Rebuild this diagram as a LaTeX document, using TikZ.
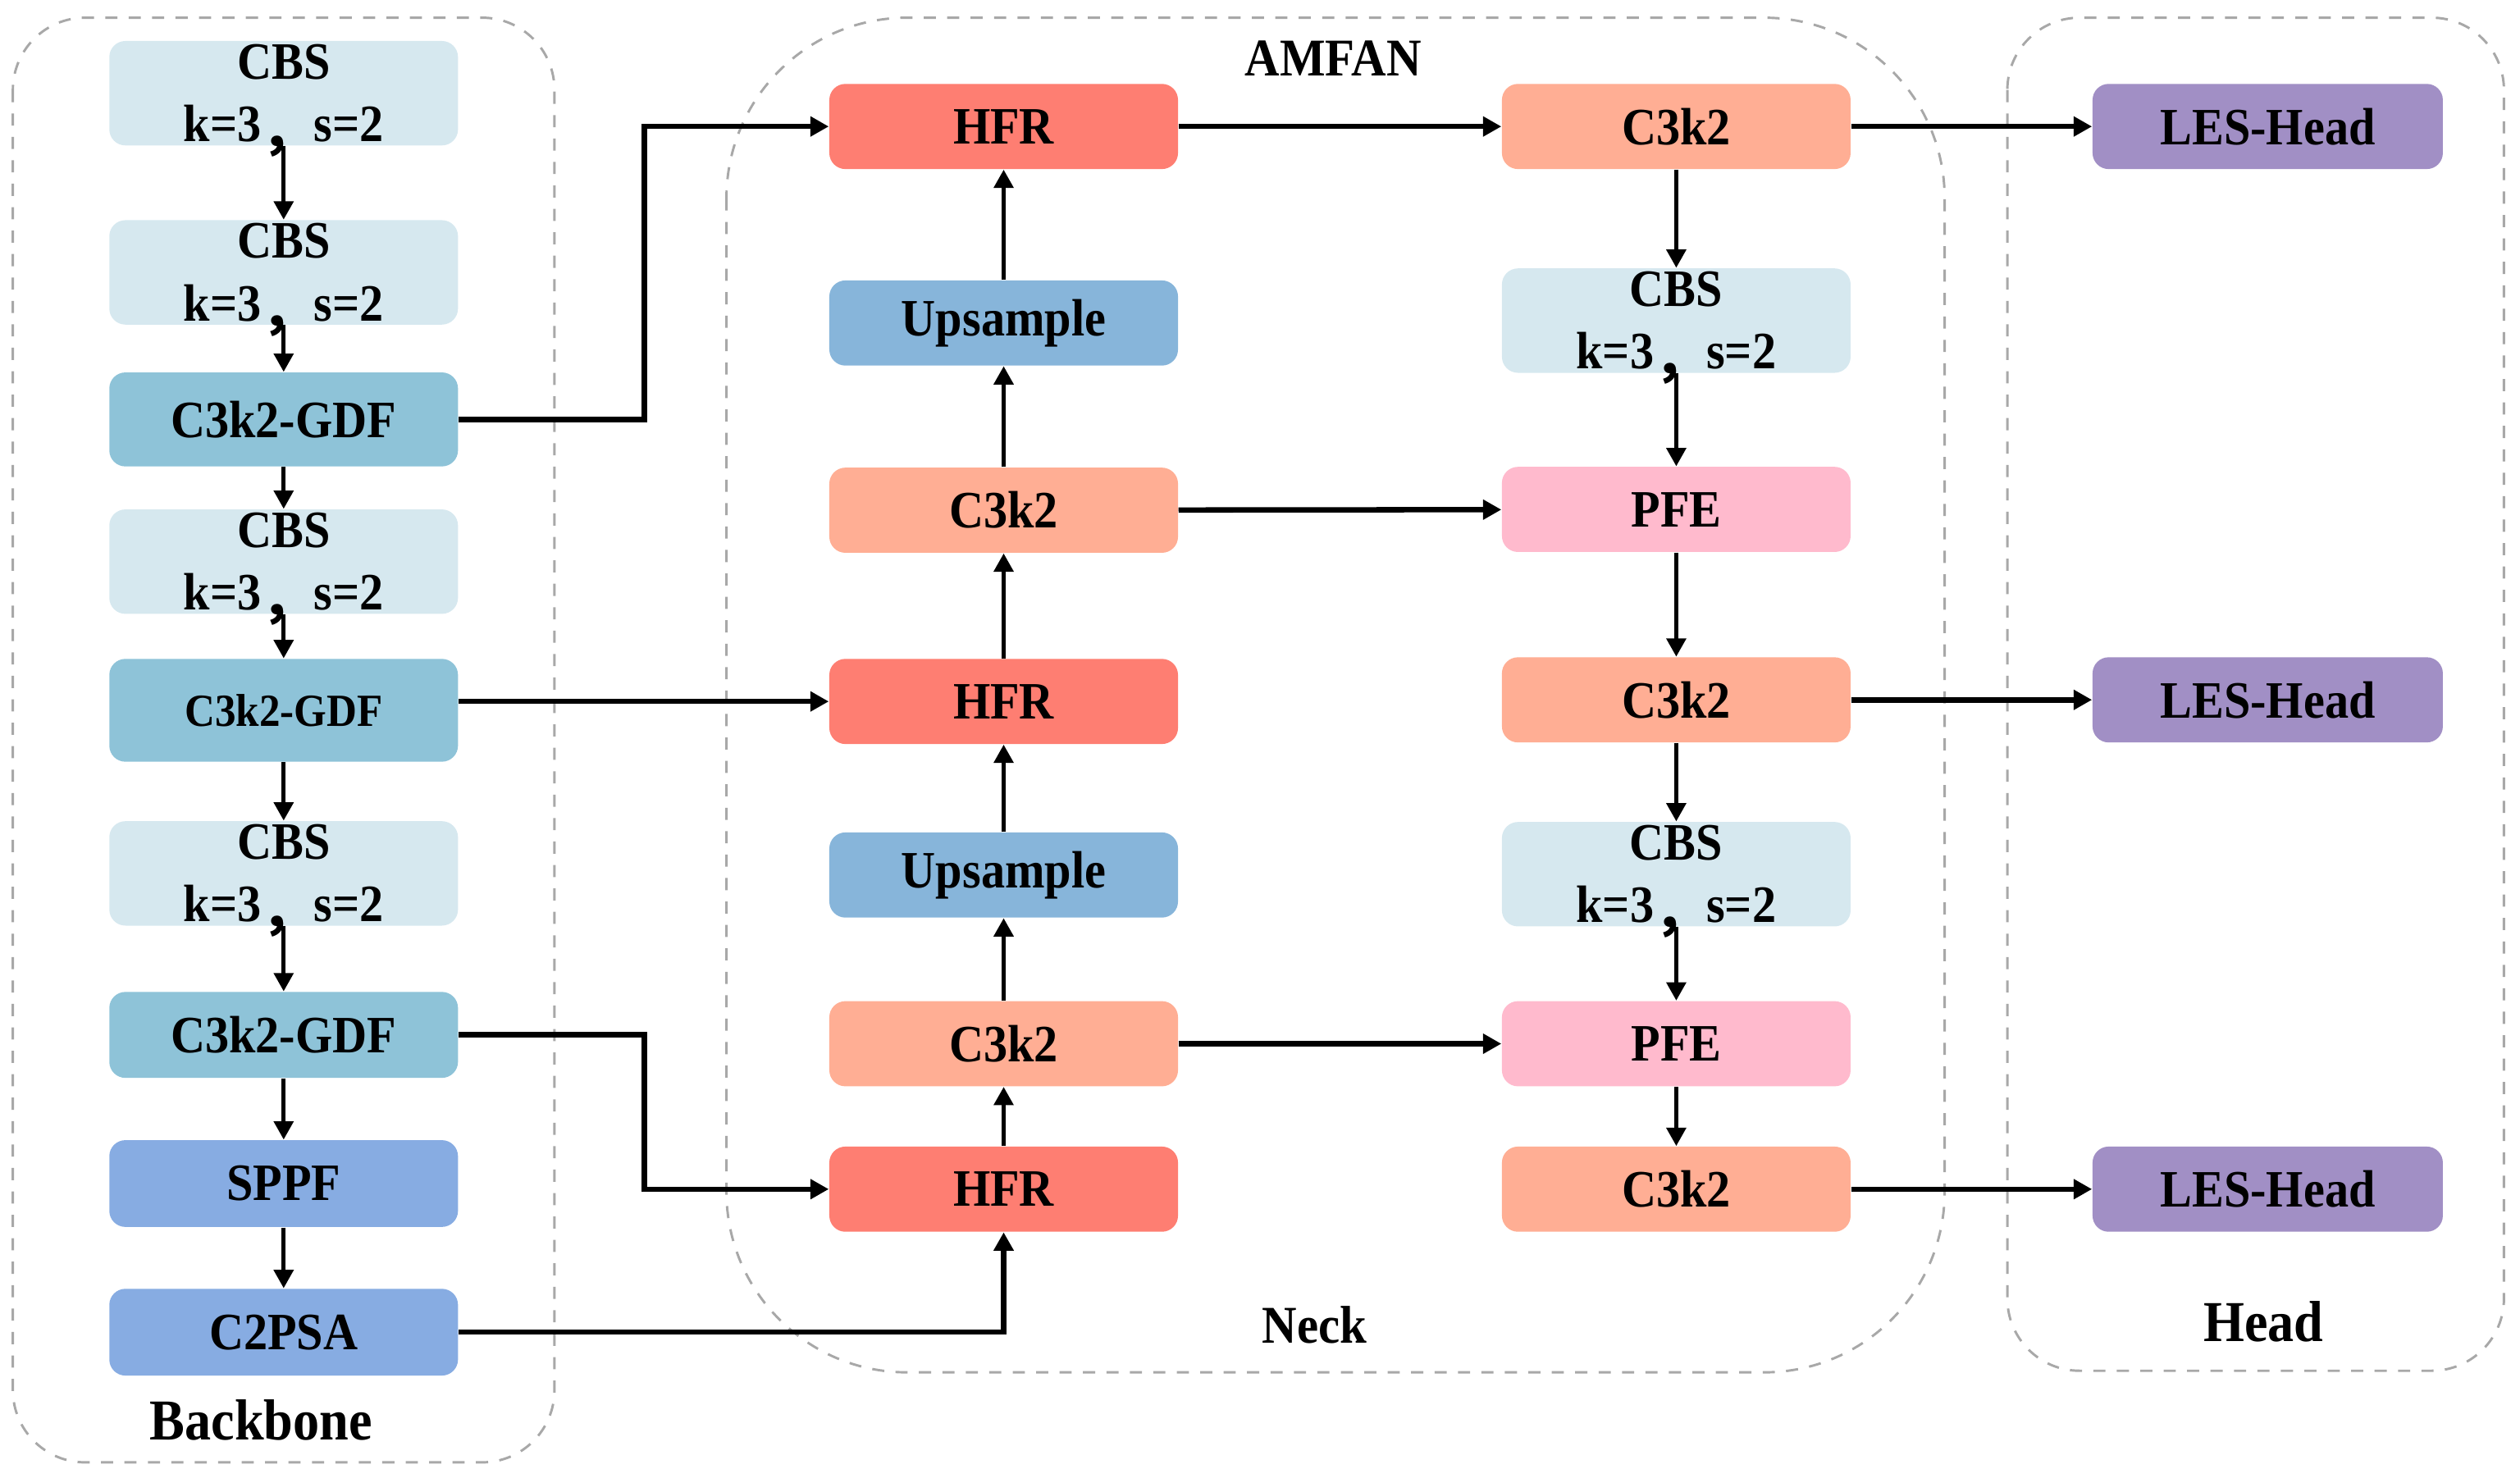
\documentclass[tikz,border=0pt]{standalone}
\usepackage{fontspec}
\setmainfont{Liberation Serif}[FakeStretch=0.91]
\newfontfamily\cjk{Noto Sans CJK SC}
\usetikzlibrary{arrows.meta}
\definecolor{cbsfill}{HTML}{D6E8EF}
\definecolor{gdffill}{HTML}{8EC3D8}
\definecolor{sppffill}{HTML}{87ACE2}
\definecolor{hfrfill}{HTML}{FE7E72}
\definecolor{upfill}{HTML}{87B5DA}
\definecolor{cthreefill}{HTML}{FFAE94}
\definecolor{pfefill}{HTML}{FFBACD}
\definecolor{headfill}{HTML}{A18FC5}
\definecolor{groupline}{HTML}{A8A8A8}
\newcommand{\kscomma}{\raisebox{-0.14em}[0pt][0pt]{\cjk ，}}
\tikzset{
  block/.style={rounded corners=0.2cm, minimum width=4.34cm, minimum height=1.06cm,
                inner sep=0pt, font=\bfseries\fontsize{18.6}{22.2}\selectfont},
  cbsblock/.style={block, fill=cbsfill, minimum height=1.3cm, align=center},
  gdfblock/.style={block, fill=gdffill},
  sppfblock/.style={block, fill=sppffill},
  hfrblock/.style={block, fill=hfrfill},
  upblock/.style={block, fill=upfill},
  cthreeblock/.style={block, fill=cthreefill},
  pfeblock/.style={block, fill=pfefill},
  headblock/.style={block, fill=headfill, minimum width=4.36cm},
  group/.style={draw=groupline, line width=0.85pt, dash pattern=on 4.3pt off 4pt},
  grouplabel/.style={font=\bfseries\fontsize{18.8}{22}\selectfont, anchor=base, inner sep=0pt},
  biglabel/.style={grouplabel, font=\bfseries\fontsize{20.5}{24}\selectfont},
  flow/.style={-{Triangle[length=6.5pt,width=6.8pt]}, line width=1.5pt},
  link/.style={flow, line width=1.9pt},
}

\begin{document}
\begin{tikzpicture}[x=0.02cm, y=-0.02cm]
    \useasboundingbox (0,0) rectangle (1568,914);
    \draw[group, rounded corners=0.9cm] (8,11) rectangle (345,910);
    \draw[group, rounded corners=2.25cm] (452,11) rectangle (1210,854);
    \draw[group, rounded corners=0.9cm] (1249,11) rectangle (1558,853);

    \node[biglabel] (backbone) at (162.5,896) {Backbone};
    \node[grouplabel] (amfan) at (829.5,47) {AMFAN};
    \node[grouplabel] (neck) at (818,836) {Neck};
    \node[biglabel] (headlbl) at (1408.5,835) {Head};

    \node[cbsblock] (cbs1) at (176.5,58) {CBS\\k=3\kscomma s=2};
    \node[cbsblock] (cbs2) at (176.5,169.5) {CBS\\k=3\kscomma s=2};
    \node[gdfblock, minimum height=1.17cm] (gdf1) at (176.5,261) {C3k2-GDF};
    \node[cbsblock] (cbs3) at (176.5,349.5) {CBS\\k=3\kscomma s=2};
    \node[gdfblock, minimum height=1.28cm, font=\bfseries\fontsize{16.3}{20}\selectfont] (gdf2) at (176.5,442) {C3k2-GDF};
    \node[cbsblock] (cbs4) at (176.5,543.5) {CBS\\k=3\kscomma s=2};
    \node[gdfblock, minimum height=1.07cm] (gdf3) at (176.5,644) {C3k2-GDF};
    \node[sppfblock, minimum height=1.08cm] (sppf) at (176.5,736.5) {SPPF};
    \node[sppfblock, minimum height=1.08cm] (c2psa) at (176.5,829) {C2PSA};

    \node[hfrblock] (hfr1) at (624.5,78.7) {HFR};
    \node[upblock] (up1) at (624.5,201) {Upsample};
    \node[cthreeblock] (cta) at (624.5,317.5) {C3k2};
    \node[hfrblock] (hfr2) at (624.5,436.5) {HFR};
    \node[upblock] (up2) at (624.5,544.5) {Upsample};
    \node[cthreeblock] (ctb) at (624.5,649.5) {C3k2};
    \node[hfrblock] (hfr3) at (624.5,740) {HFR};

    \node[cthreeblock] (ctc) at (1043,78.7) {C3k2};
    \node[cbsblock] (cbs5) at (1043,199.5) {CBS\\k=3\kscomma s=2};
    \node[pfeblock] (pfe1) at (1043,317) {PFE};
    \node[cthreeblock] (ctd) at (1043,435.5) {C3k2};
    \node[cbsblock] (cbs6) at (1043,544) {CBS\\k=3\kscomma s=2};
    \node[pfeblock] (pfe2) at (1043,649.5) {PFE};
    \node[cthreeblock] (cte) at (1043,740) {C3k2};

    \node[headblock] (les1) at (1411,78.7) {LES-Head};
    \node[headblock] (les2) at (1411,435.5) {LES-Head};
    \node[headblock] (les3) at (1411,740) {LES-Head};

    \coordinate (elbow) at (401,0);

    \draw[flow] (cbs1) -- (cbs2);
    \draw[flow] (cbs2) -- (gdf1);
    \draw[flow] (gdf1) -- (cbs3);
    \draw[flow] (cbs3) -- (gdf2);
    \draw[flow] (gdf2) -- (cbs4);
    \draw[flow] (cbs4) -- (gdf3);
    \draw[flow] (gdf3) -- (sppf);
    \draw[flow] (sppf) -- (c2psa);

    \draw[link] (gdf1.east) -- (gdf1.east -| elbow) |- (hfr1.west);
    \draw[link] (gdf2.east |- hfr2.west) -- (hfr2.west);
    \draw[link] (gdf3.east) -- (gdf3.east -| elbow) |- (hfr3.west);
    \draw[link] (c2psa.east) -| (hfr3.south);

    \draw[flow] (hfr3) -- (ctb);
    \draw[flow] (ctb) -- (up2);
    \draw[flow] (up2) -- (hfr2);
    \draw[flow] (hfr2) -- (cta);
    \draw[flow] (cta) -- (up1);
    \draw[flow] (up1) -- (hfr1);

    \draw[link] (hfr1) -- (ctc);
    \draw[link] (cta) -- (pfe1);
    \draw[link] (ctb) -- (pfe2);

    \draw[flow] (ctc) -- (cbs5);
    \draw[flow] (cbs5) -- (pfe1);
    \draw[flow] (pfe1) -- (ctd);
    \draw[flow] (ctd) -- (cbs6);
    \draw[flow] (cbs6) -- (pfe2);
    \draw[flow] (pfe2) -- (cte);

    \draw[link] (ctc) -- (les1);
    \draw[link] (ctd) -- (les2);
    \draw[link] (cte) -- (les3);
\end{tikzpicture}
\end{document}
